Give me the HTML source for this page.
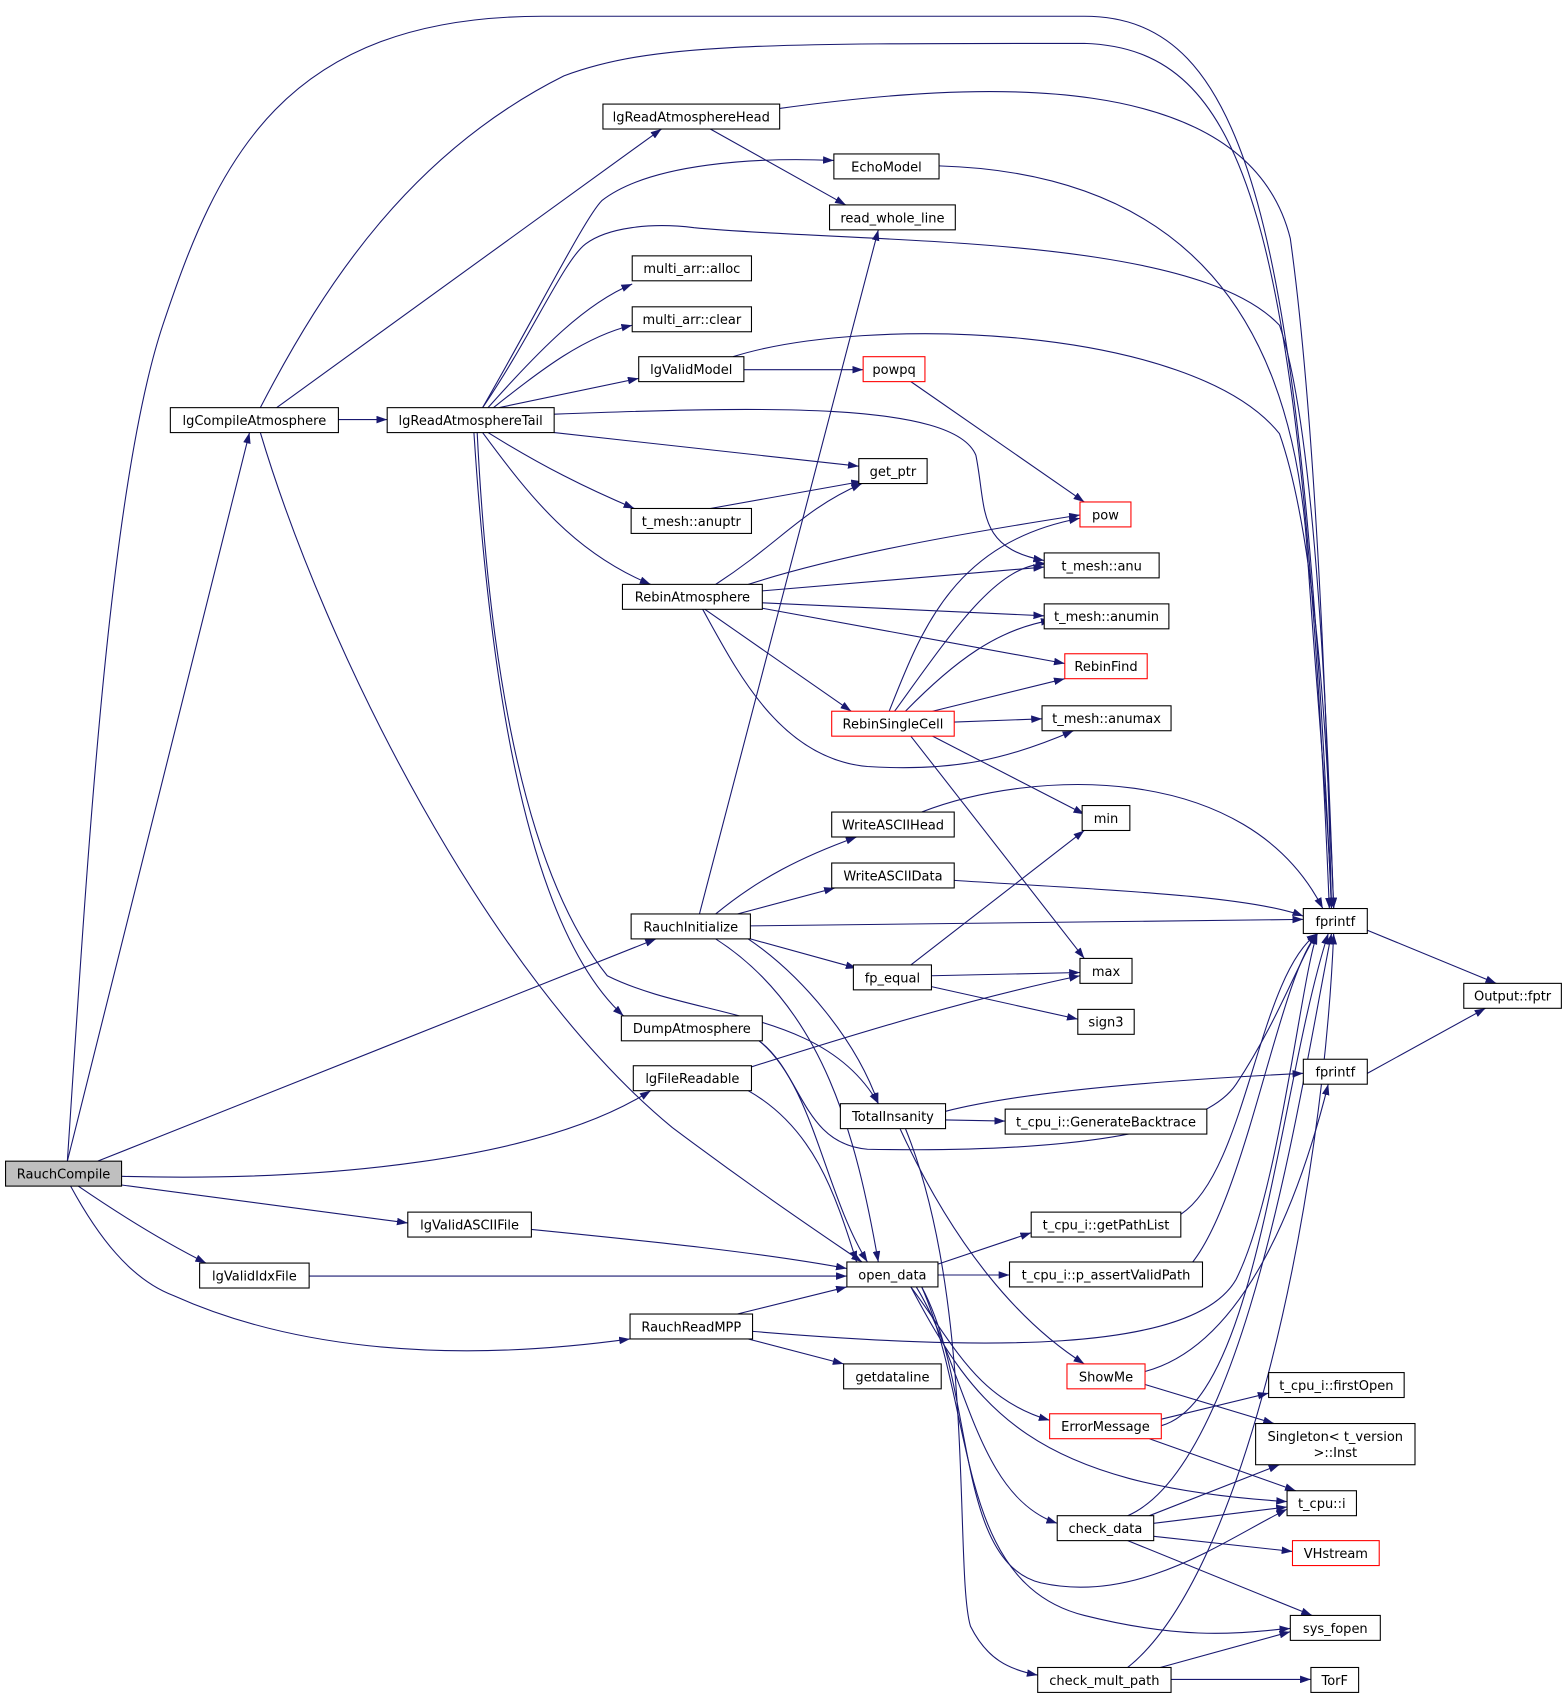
<!DOCTYPE html>
<html><head><meta charset="utf-8"><style>
html,body{margin:0;padding:0;background:#fff;}
svg{display:block;}
text{font-family:"DejaVu Sans","Liberation Sans",sans-serif;font-size:12px;fill:#000;}
.n{fill:#fff;stroke:#000;stroke-width:1;}
.r{fill:#fff;stroke:#ff0000;stroke-width:1;}
.e{fill:none;stroke:#191970;stroke-width:1;}
</style></head><body>
<svg width="1568" height="1700" viewBox="0 0 1446 1568" xmlns="http://www.w3.org/2000/svg">
<defs>
<marker id="a" markerWidth="10" markerHeight="7" refX="10" refY="3.5" orient="auto" markerUnits="userSpaceOnUse">
<polygon points="0,0 10,3.5 0,7" fill="#191970"/>
</marker>
</defs>
<g class="e" marker-end="url(#a)">
<path d="M62,1071 C80,800 100,450 150,300 C200,150 260,15 500,15 L1000,15 C1150,15 1200,200 1228,838"/>
<path d="M62,1071 L230,399"/>
<path d="M90,1071 L605,866"/>
<path d="M112,1085 C300,1090 500,1070 600,1006"/>
<path d="M112,1093 L376,1128"/>
<path d="M72,1094 C110,1120 150,1145 190,1165"/>
<path d="M65,1094 C90,1140 120,1180 160,1195 C260,1240 400,1260 581,1235"/>
<path d="M255,376 L610,119"/>
<path d="M240,376 C300,260 380,140 520,70 C600,40 700,40 1000,40 C1150,45 1200,200 1226,838"/>
<path d="M312,387 L357,387"/>
<path d="M240,399 C300,600 450,900 620,1040 C700,1100 760,1140 795,1164"/>
<path d="M719,100 C900,75 1150,60 1190,220 C1215,400 1225,700 1228,838"/>
<path d="M655,119 L780,189"/>
<path d="M866,153 C1100,160 1190,300 1205,500 C1215,650 1225,750 1228,838"/>
<path d="M445,376 C500,280 540,200 555,185 C600,150 700,145 769,148"/>
<path d="M445,376 C490,310 520,240 540,225 C560,210 600,205 640,210 C800,225 1100,215 1180,300 C1215,400 1225,700 1230,838"/>
<path d="M450,376 C500,320 540,280 583,262"/>
<path d="M455,376 C500,340 540,310 583,300"/>
<path d="M460,376 L589,349"/>
<path d="M511,382 C700,375 880,370 900,420 C910,470 900,505 963,517"/>
<path d="M511,399 L792,430"/>
<path d="M450,399 C500,430 540,450 585,469"/>
<path d="M445,399 C490,460 530,510 600,539"/>
<path d="M440,399 C450,600 480,800 560,900 C640,940 760,930 810,1018"/>
<path d="M437,399 C450,600 480,850 575,937"/>
<path d="M686,341 L796,341"/>
<path d="M676,329 C800,290 1100,300 1180,400 C1215,500 1225,700 1230,838"/>
<path d="M840,352 L1000,463"/>
<path d="M655,469 L795,444"/>
<path d="M660,539 C720,500 740,470 795,446"/>
<path d="M690,539 C780,510 900,490 996,475"/>
<path d="M703,545 L963,523"/>
<path d="M703,556 L963,568"/>
<path d="M703,561 L982,612"/>
<path d="M650,562 L785,656"/>
<path d="M648,562 C680,620 720,700 800,707 C880,712 930,700 990,674"/>
<path d="M820,656 C850,580 880,500 996,478"/>
<path d="M825,656 C880,580 920,520 965,520"/>
<path d="M835,656 C880,610 920,580 970,572"/>
<path d="M860,656 L982,626"/>
<path d="M880,666 L961,663"/>
<path d="M860,679 L1000,751"/>
<path d="M840,679 L1000,884"/>
<path d="M850,749 C950,710 1150,700 1220,838"/>
<path d="M880,812 C1000,820 1150,825 1202,845"/>
<path d="M645,843 L810,212"/>
<path d="M660,843 C700,810 740,790 790,772"/>
<path d="M680,843 L770,819"/>
<path d="M692,854 L1202,848"/>
<path d="M692,866 L790,893"/>
<path d="M690,866 C740,900 790,960 810,1018"/>
<path d="M660,866 C760,930 790,1050 810,1164"/>
<path d="M840,890 L1000,766"/>
<path d="M859,900 L996,897"/>
<path d="M859,910 L994,940"/>
<path d="M1261,858 L1380,907"/>
<path d="M1261,990 L1370,930"/>
<path d="M700,960 C740,990 740,1055 800,1060 C900,1062 1100,1060 1140,1000 C1180,940 1200,880 1215,861"/>
<path d="M700,960 C750,1000 760,1100 800,1164"/>
<path d="M690,985 C800,950 900,920 996,900"/>
<path d="M690,1006 C750,1040 770,1100 790,1164"/>
<path d="M872,1025 C950,1005 1100,995 1202,990"/>
<path d="M872,1033 L927,1034"/>
<path d="M830,1041 C880,1150 940,1220 1000,1258"/>
<path d="M835,1041 C900,1200 880,1450 895,1500 C910,1530 930,1540 957,1545"/>
<path d="M490,1134 C600,1145 700,1155 781,1170"/>
<path d="M285,1177 L781,1177"/>
<path d="M680,1212 L781,1187"/>
<path d="M694,1228 C900,1245 1100,1250 1140,1180 C1180,1100 1200,900 1215,861"/>
<path d="M690,1235 L778,1258"/>
<path d="M865,1166 L951,1137"/>
<path d="M865,1176 L931,1176"/>
<path d="M840,1187 C880,1240 900,1290 968,1310"/>
<path d="M840,1187 C900,1300 950,1370 1187,1385"/>
<path d="M845,1187 C890,1260 900,1380 975,1405"/>
<path d="M850,1187 C900,1280 880,1440 960,1460 C1050,1480 1130,1420 1187,1392"/>
<path d="M850,1187 C900,1300 880,1460 1000,1490 C1100,1515 1150,1505 1190,1502"/>
<path d="M1089,1120 C1150,1080 1160,900 1215,861"/>
<path d="M1100,1164 C1150,1100 1180,900 1215,861"/>
<path d="M1056,1265 C1150,1240 1200,1100 1225,1000"/>
<path d="M1056,1277 L1175,1313"/>
<path d="M1071,1309 L1170,1285"/>
<path d="M1071,1315 C1160,1290 1180,1000 1225,861"/>
<path d="M1060,1327 L1195,1375"/>
<path d="M1040,1398 C1150,1350 1200,1000 1228,861"/>
<path d="M1060,1398 L1180,1351"/>
<path d="M1064,1405 L1187,1390"/>
<path d="M1064,1417 L1192,1431"/>
<path d="M1040,1421 L1210,1490"/>
<path d="M1040,1538 C1150,1450 1220,1100 1230,861"/>
<path d="M1070,1538 L1190,1505"/>
<path d="M1080,1549 L1209,1549"/>
</g>
<g>
<rect x="5" y="1071" width="107" height="23" fill="#bfbfbf" stroke="#000"/><text x="58.5" y="1087" text-anchor="middle">RauchCompile</text>
<rect class="n" x="157" y="376" width="155" height="23"/><text x="234.5" y="392" text-anchor="middle">lgCompileAtmosphere</text>
<rect class="n" x="556" y="96" width="163" height="23"/><text x="637.5" y="112" text-anchor="middle">lgReadAtmosphereHead</text>
<rect class="n" x="769" y="142" width="97" height="23"/><text x="817.5" y="158" text-anchor="middle">EchoModel</text>
<rect class="n" x="765" y="189" width="116" height="23"/><text x="823" y="205" text-anchor="middle">read_whole_line</text>
<rect class="n" x="583" y="236" width="110" height="23"/><text x="638" y="252" text-anchor="middle">multi_arr::alloc</text>
<rect class="n" x="583" y="283" width="110" height="23"/><text x="638" y="299" text-anchor="middle">multi_arr::clear</text>
<rect class="n" x="589" y="329" width="97" height="23"/><text x="637.5" y="345" text-anchor="middle">lgValidModel</text>
<rect class="r" x="796" y="329" width="57" height="23"/><text x="824.5" y="345" text-anchor="middle">powpq</text>
<rect class="n" x="357" y="376" width="154" height="23"/><text x="434" y="392" text-anchor="middle">lgReadAtmosphereTail</text>
<rect class="n" x="792" y="423" width="63" height="23"/><text x="823.5" y="439" text-anchor="middle">get_ptr</text>
<rect class="r" x="996" y="463" width="47" height="23"/><text x="1019.5" y="479" text-anchor="middle">pow</text>
<rect class="n" x="582" y="469" width="111" height="23"/><text x="637.5" y="485" text-anchor="middle">t_mesh::anuptr</text>
<rect class="n" x="963" y="510" width="106" height="23"/><text x="1016" y="526" text-anchor="middle">t_mesh::anu</text>
<rect class="n" x="574" y="539" width="129" height="23"/><text x="638.5" y="555" text-anchor="middle">RebinAtmosphere</text>
<rect class="n" x="963" y="557" width="115" height="23"/><text x="1020.5" y="573" text-anchor="middle">t_mesh::anumin</text>
<rect class="r" x="982" y="603" width="76" height="23"/><text x="1020" y="619" text-anchor="middle">RebinFind</text>
<rect class="r" x="767" y="656" width="113" height="23"/><text x="823.5" y="672" text-anchor="middle">RebinSingleCell</text>
<rect class="n" x="961" y="651" width="119" height="23"/><text x="1020.5" y="667" text-anchor="middle">t_mesh::anumax</text>
<rect class="n" x="998" y="743" width="44" height="23"/><text x="1020" y="759" text-anchor="middle">min</text>
<rect class="n" x="767" y="749" width="113" height="23"/><text x="823.5" y="765" text-anchor="middle">WriteASCIIHead</text>
<rect class="n" x="767" y="796" width="113" height="23"/><text x="823.5" y="812" text-anchor="middle">WriteASCIIData</text>
<rect class="n" x="1202" y="838" width="59" height="23"/><text x="1231.5" y="854" text-anchor="middle">fprintf</text>
<rect class="n" x="582" y="843" width="110" height="23"/><text x="637" y="859" text-anchor="middle">RauchInitialize</text>
<rect class="n" x="787" y="890" width="72" height="23"/><text x="823" y="906" text-anchor="middle">fp_equal</text>
<rect class="n" x="996" y="884" width="48" height="23"/><text x="1020" y="900" text-anchor="middle">max</text>
<rect class="n" x="1350" y="907" width="90" height="23"/><text x="1395" y="923" text-anchor="middle">Output::fptr</text>
<rect class="n" x="994" y="931" width="52" height="23"/><text x="1020" y="947" text-anchor="middle">sign3</text>
<rect class="n" x="573" y="937" width="130" height="23"/><text x="638" y="953" text-anchor="middle">DumpAtmosphere</text>
<rect class="n" x="584" y="983" width="109" height="23"/><text x="638.5" y="999" text-anchor="middle">lgFileReadable</text>
<rect class="n" x="1202" y="977" width="59" height="23"/><text x="1231.5" y="993" text-anchor="middle">fprintf</text>
<rect class="n" x="775" y="1018" width="97" height="23"/><text x="823.5" y="1034" text-anchor="middle">TotalInsanity</text>
<rect class="n" x="927" y="1023" width="186" height="23"/><text x="1020" y="1039" text-anchor="middle">t_cpu_i::GenerateBacktrace</text>
<rect class="n" x="376" y="1118" width="114" height="23"/><text x="433" y="1134" text-anchor="middle">lgValidASCIIFile</text>
<rect class="n" x="951" y="1118" width="138" height="23"/><text x="1020" y="1134" text-anchor="middle">t_cpu_i::getPathList</text>
<rect class="n" x="184" y="1165" width="101" height="23"/><text x="234.5" y="1181" text-anchor="middle">lgValidIdxFile</text>
<rect class="n" x="781" y="1164" width="84" height="23"/><text x="823" y="1180" text-anchor="middle">open_data</text>
<rect class="n" x="931" y="1164" width="178" height="23"/><text x="1020" y="1180" text-anchor="middle">t_cpu_i::p_assertValidPath</text>
<rect class="n" x="581" y="1212" width="113" height="23"/><text x="637.5" y="1228" text-anchor="middle">RauchReadMPP</text>
<rect class="n" x="778" y="1258" width="90" height="23"/><text x="823" y="1274" text-anchor="middle">getdataline</text>
<rect class="r" x="984" y="1258" width="72" height="23"/><text x="1020" y="1274" text-anchor="middle">ShowMe</text>
<rect class="n" x="1170" y="1266" width="125" height="23"/><text x="1232.5" y="1282" text-anchor="middle">t_cpu_i::firstOpen</text>
<rect class="r" x="968" y="1304" width="103" height="23"/><text x="1019.5" y="1320" text-anchor="middle">ErrorMessage</text>
<rect class="n" x="1158" y="1313" width="147" height="38"/><text x="1231.5" y="1329" text-anchor="middle">Singleton&lt; t_version</text><text x="1231.5" y="1344" text-anchor="middle">&gt;::Inst</text>
<rect class="n" x="1187" y="1375" width="64" height="23"/><text x="1219" y="1391" text-anchor="middle">t_cpu::i</text>
<rect class="n" x="975" y="1398" width="89" height="23"/><text x="1019.5" y="1414" text-anchor="middle">check_data</text>
<rect class="r" x="1192" y="1421" width="80" height="23"/><text x="1232" y="1437" text-anchor="middle">VHstream</text>
<rect class="n" x="1190" y="1490" width="83" height="23"/><text x="1231.5" y="1506" text-anchor="middle">sys_fopen</text>
<rect class="n" x="957" y="1538" width="123" height="23"/><text x="1018.5" y="1554" text-anchor="middle">check_mult_path</text>
<rect class="n" x="1209" y="1538" width="44" height="23"/><text x="1231" y="1554" text-anchor="middle">TorF</text>
</g>
</svg>
</body></html>
